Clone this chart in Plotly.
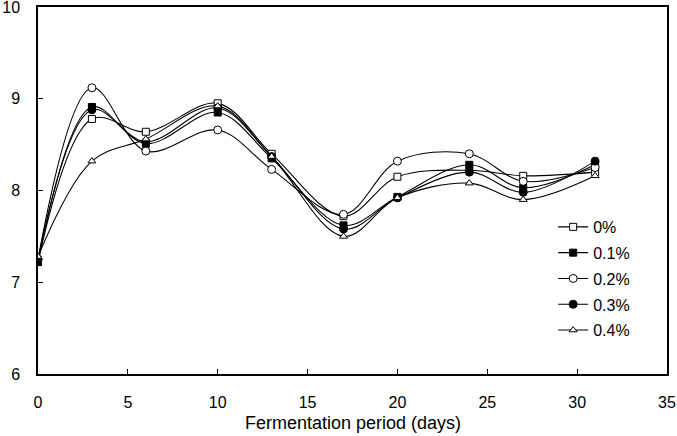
import plotly.graph_objects as go

days = [0, 3, 6, 10, 13, 17, 20, 24, 27, 31]
s0 = [7.22, 8.78, 8.64, 8.95, 8.40, 7.72, 8.15, 8.22, 8.16, 8.20]
s01 = [7.22, 8.91, 8.51, 8.85, 8.35, 7.62, 7.93, 8.28, 8.03, 8.28]
s02 = [7.25, 9.12, 8.43, 8.66, 8.23, 7.74, 8.32, 8.40, 8.10, 8.25]
s03 = [7.25, 8.88, 8.53, 8.90, 8.37, 7.58, 7.92, 8.20, 7.98, 8.32]
s04 = [7.28, 8.32, 8.56, 8.92, 8.37, 7.50, 7.92, 8.08, 7.90, 8.16]

names = ["0%", "0.1%", "0.2%", "0.3%", "0.4%"]
series = [s0, s01, s02, s03, s04]
symbols = ["square", "square", "circle", "circle", "triangle-up"]
fills = ["white", "black", "white", "black", "white"]
sizes = [7, 7, 8, 8, 7]
x_title = "Fermentation period (days)"

fig = go.Figure()
for i, (n, s) in enumerate(zip(names, series)):
    fig.add_trace(go.Scatter(
        x=days, y=s, name=n, mode="lines+markers",
        line=dict(color="black", width=1.1, shape="spline", smoothing=1.0),
        marker=dict(symbol=symbols[i], size=sizes[i], color=fills[i],
                    line=dict(color="black", width=1)),
        legendgroup=n,
    ))

font = "Liberation Sans, Arial, sans-serif"
fig.update_layout(
    width=677, height=436,
    margin=dict(l=38, r=10, t=7, b=62),
    paper_bgcolor="white", plot_bgcolor="white",
    font=dict(family=font, size=16, color="black"),
    legend=dict(x=0.819, y=0.447, xanchor="left", yanchor="top",
                font=dict(size=16, family=font), tracegroupgap=2,
                itemwidth=30, bgcolor="rgba(0,0,0,0)"),
    showlegend=True,
)
fig.add_annotation(
    text=x_title, x=0.5, xref="paper", y=0, yref="paper",
    xanchor="center", yanchor="bottom", yshift=-61, showarrow=False,
    font=dict(size=18, family=font, color="black"),
)
fig.update_xaxes(
    range=[0, 35], tickvals=[0, 5, 10, 15, 20, 25, 30, 35],
    ticks="inside", ticklen=5, tickcolor="black",
    showline=True, linecolor="black", linewidth=1.5, mirror=True,
    showgrid=False, zeroline=False, ticklabeloverflow="allow",
    ticklabelstandoff=13, automargin=False,
)
fig.update_yaxes(
    range=[6, 10], tickvals=[6, 7, 8, 9, 10],
    ticks="inside", ticklen=5, tickcolor="black",
    showline=True, linecolor="black", linewidth=1.5, mirror=True,
    showgrid=False, zeroline=False, ticklabeloverflow="allow",
    ticklabelstandoff=13, automargin=False,
)
fig.write_html("out.html")
